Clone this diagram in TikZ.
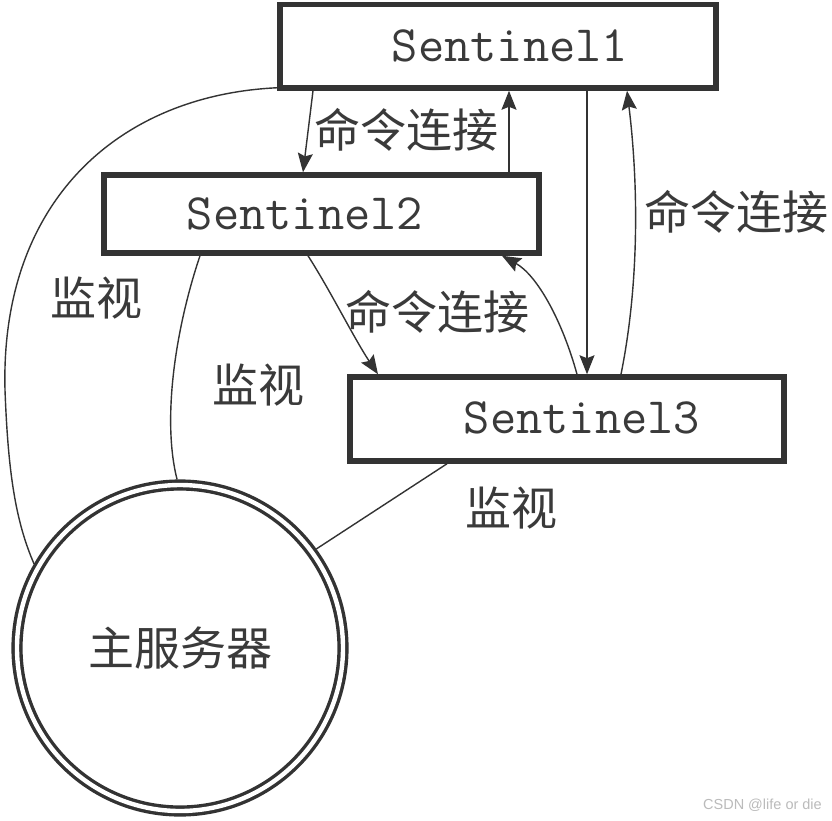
\documentclass[tikz,border=0pt]{standalone}
\usepackage{fontspec}
\newfontfamily\cjk{Noto Sans CJK SC}
\newfontfamily\wmfont{Liberation Sans}
\usetikzlibrary{arrows.meta}
\definecolor{ink}{HTML}{333333}
\definecolor{txt}{HTML}{3A3A3A}
\definecolor{wm}{HTML}{BBBBBB}
\begin{document}
\begin{tikzpicture}[x=1pt,y=-1pt,
  sbox/.style={draw=ink, line width=5.5pt, rectangle, inner sep=0pt},
  stext/.style={text=txt, font=\ttfamily\fontsize{51}{60}\selectfont, inner sep=0pt},
  clabel/.style={text=txt, font=\cjk\fontsize{46}{52}\selectfont, inner sep=0pt},
  conn/.style={draw=ink, line width=1.4pt},
  arr/.style={conn, -{Stealth[length=19pt,width=15pt,inset=3pt]}},
  server/.style={circle, draw=ink, double=white, line width=3.4pt, double distance=4.4pt,
     minimum size=326pt, inner sep=0pt, outer sep=5.6pt}
]
\useasboundingbox (0,0) rectangle (832,820);
\fill[white] (0,0) rectangle (832,820);

% boxes
\node[sbox, minimum width=436pt, minimum height=83.5pt] (s1) at (498,46.25) {};
\node[sbox, minimum width=435pt, minimum height=78pt] (s2) at (321.5,214) {};
\node[sbox, minimum width=434pt, minimum height=84pt] (s3) at (567,419) {};
\node[stext] (t1) at (510,46) {Sentinel1};
\node[stext] (t2) at (305,214) {Sentinel2};
\node[stext] (t3) at (582,418) {Sentinel3};

% server
\node[server] (srv) at (180,648) {};
\node[clabel] (tsrv) at (180,648) {主服务器};

% command connections
\draw[arr] ([xshift=-185pt]s1.south) -- ([xshift=-18.5pt]s2.north);
\draw[arr] ([xshift=187.5pt]s2.north) -- ([xshift=11pt]s1.south);
\draw[arr] ([xshift=-13.5pt]s2.south) .. controls (330,290) and (355,340) .. ([xshift=-189pt]s3.north);
\draw[arr] ([xshift=10pt]s3.north) .. controls (562,320) and (537,275) .. ([xshift=180.5pt]s2.south);
\draw[arr] ([xshift=89pt]s1.south) -- ([xshift=20pt]s3.north);
\draw[arr] ([xshift=54pt]s3.north) .. controls (640,280) and (638,180) .. ([xshift=129pt]s1.south);

% monitoring
\coordinate (mleft) at (5,390);
\draw[conn] ([yshift=3pt]s1.south west) .. controls (120,95) and (0,200) .. (mleft)
   .. controls (8,470) and (15,520) .. (srv.150);
\draw[conn] ([xshift=-121.5pt]s2.south) .. controls (175,330) and (162,420) .. (srv.91);
\draw[conn] ([xshift=-120pt]s3.south) -- (srv.36);

% labels
\node[clabel] (c1) at (406,130) {命令连接};
\node[clabel] (c2) at (736,212) {命令连接};
\node[clabel] (c3) at (437,312) {命令连接};
\node[clabel] (m1) at (96,298) {监视};
\node[clabel] (m2) at (258,385) {监视};
\node[clabel] (m3) at (511,508) {监视};

\node[text=wm, font=\wmfont\fontsize{14.5}{16}\selectfont, anchor=east, inner sep=0pt] (wmark) at (822,805) {CSDN @life or die};
\end{tikzpicture}
\end{document}
